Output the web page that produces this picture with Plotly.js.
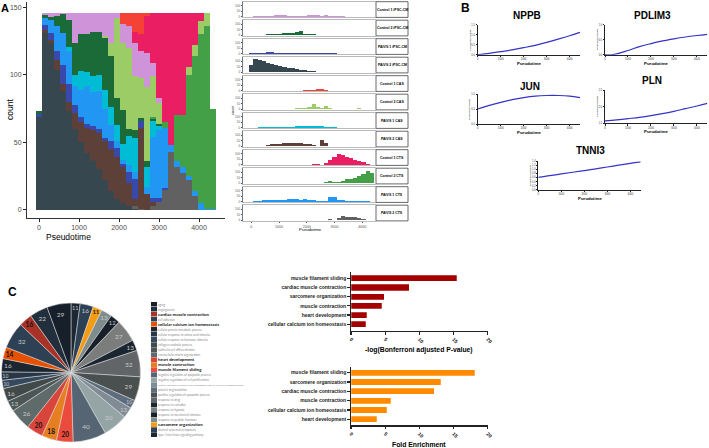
<!DOCTYPE html>
<html><head><meta charset="utf-8">
<script src="https://cdn.plot.ly/plotly-3.0.1.min.js"></script>
<style>html,body{margin:0;padding:0;background:#fff}#chart{width:709px;height:448px}</style>
</head><body><div id="chart"></div>
<script>
// ---------------- DATA ----------------
const bins=[0,150,300,450,600,750,900,1050,1200,1350,1500,1650,1800,1950,2100,2250,2400,2550,2700,2850,3000,3150,3300,3450,3600,3750,3900,4050,4200,4350];
const pseudoTicks=[0,1000,2000,3000,4000];
const pseudoTickText=['0','1000','2000','3000','4000'];

const samples=['Control 1 iPSC-CM','Control 2 iPSC-CM','PAIVS 1 iPSC-CM','PAIVS 2 iPSC-CM','Control 1 CAS','Control 2 CAS','PAIVS 1 CAS','PAIVS 2 CAS','Control 1 CTS','Control 2 CTS','PAIVS 1 CTS','PAIVS 2 CTS'];

// Panel A: stacked heights per bin
const stackC1iPSC=[0,1.5,3,2,1,5,22,16,16,14,14,17,22,4,14,16,25,20,25,10,4,0,0,0,0,0,0,0,0,0];
const stackC2iPSC=[2,2.5,2,8,14,20,24,27,28,33,32,38,38,20,25,5,6,2,4,1,2,0,0,0,0,0,0,0,0,0];
const stackP1iPSC=[2,4,5,7,14,13,6,4,3,3,3,2,6,7,2,8,15,5,0,3,3,1,0,0,0,0,0,0,0,0];
const stackP2iPSC=[69,131,124,104,88,73,60,50,42,36,30,22,14,8,5,3,1,0,0,0,0,0,0,0,0,0,0,0,0,0];
const stackC1CAS=[0,0,0,0,0,0,0,0,0,0,0,0,0,0,8,10,14,16,2,0,0,0,0,0,0,0,0,0,0,0];
const stackC2CAS=[0,0,0,0,0,0,0,0,0,0,0,2,10,59,50,60,40,30,55,30,15,0,0,0,0,6,8,10,10,0];
const stackP1CAS=[0,0,0,0,0,3,8,14,10,12,12,14,13,12,12,22,25,0,15,12,3,0,0,0,0,0,0,0,0,0];
const stackP2CAS=[0,2,2,7,5,7,12,15,19,23,27,29,31,31,27,17,5,60,12,3,0,0,0,0,0,0,0,0,0,0];
const stackC1CTS=[0,0,0,0,0,0,0,0,0,0,0,0,0,0,0,0,8,12,28,37,63,81,98,76,76,40,24,6,0,0];
const stackC2CTS=[0,0,0,0,0,0,0,0,0,0,0,0,0,0,0,0,0,0,0,2,0,4,0,34,38,75,100,125,135,74];
const stackP1CTS=[0,5,10,18,24,25,14,20,28,25,28,22,12,5,3,5,5,0,5,45,50,45,5,4,5,3,4,5,1,1];
const stackP2CTS=[0,0,0,0,0,0,0,0,0,0,0,0,0,0,0,0,2,1,0,3,6,15,43,32,27,22,10,0,0,0];

// Facets: counts per bin for each sample
const countC1iPSC=[0,1,1,1,1,2,12,10,10,8,8,8,9,6,10,15,14,6,13,5,8,2,1,0,0,0,0,0,0,0];
const countC2iPSC=[1,2,2,4,6,8,10,12,14,16,20,28,35,8,7,5,4,2,2,1,0,0,0,0,0,0,0,0,0,0];
const countP1iPSC=[2,4,5,8,12,12,6,5,4,5,6,4,3,3,2,6,8,7,3,1,1,0,0,0,0,0,0,0,0,0];
const countP2iPSC=[64,122,110,98,85,74,64,55,47,40,33,26,20,14,9,6,4,3,2,2,1,0,0,0,0,0,0,0,0,0];
const countC1CAS=[0,0,0,0,0,0,0,0,0,0,0,0,0,2,5,5,15,18,2,0,0,0,0,0,0,0,0,0,0,0];
const countC2CAS=[0,0,0,0,0,0,0,0,0,2,3,5,8,12,15,45,15,12,30,5,2,0,0,0,0,3,5,4,0,0];
const countP1CAS=[0,0,1,2,3,4,6,8,8,9,9,10,10,11,12,14,18,15,8,3,1,0,0,0,0,0,0,0,0,0];
const countP2CAS=[0,1,2,4,8,14,18,22,24,25,26,25,24,22,20,5,3,55,28,2,0,0,0,0,0,0,0,0,0,0];
const countC1CTS=[0,0,0,0,0,0,0,0,0,0,0,0,0,0,0,6,6,0,15,40,65,95,90,70,60,45,35,20,5,0];
const countC2CTS=[0,0,0,0,0,0,0,0,0,0,0,0,0,0,0,2,4,2,12,22,10,5,20,35,40,45,60,80,110,95];
const countP1CTS=[0,3,5,10,12,15,14,15,18,20,22,20,18,20,15,10,8,3,4,40,38,15,12,8,6,5,3,4,1,0];
const countP2CTS=[0,0,0,0,0,0,0,0,0,0,0,0,0,0,0,0,0,0,0,5,4,15,35,30,28,25,15,5,0,0];

// Panel B: smoothed gene expression along pseudotime
const geneNames=['NPPB','PDLIM3','JUN','PLN','TNNI3'];
const bX=[0,500,1000,1500,2000,2500,3000,3500,4000,4450];
const pdlimX=[0,330,1000,1500,2000,2500,3000,3500,4000,4450];
const nppb=[0,0.07,0.15,0.24,0.35,0.47,0.62,0.78,0.95,1.12];
const pdlim3=[0,0,0.14,0.27,0.37,0.46,0.53,0.59,0.64,0.68];
const jun=[0.50,0.62,0.72,0.81,0.88,0.93,0.95,0.95,0.93,0.88];
const pln=[1.57,1.60,1.64,1.68,1.73,1.79,1.86,1.94,2.02,2.10];
const tnni3=[0.61,0.69,0.78,0.86,0.94,1.03,1.12,1.21,1.30,1.37];

// Panel C: GO terms
const goTerms=['aging','angiogenesis','cardiac muscle contraction','cell adhesion','cellular calcium ion homeostasis','cellular protein metabolic process','cellular response to amino acid stimulus','cellular response to hormone stimulus','collagen catabolic process','epithelial cell differentiation','extracellular matrix organization','heart development','muscle contraction','muscle filament sliding','negative regulation of apoptotic process','negative regulation of cell proliferation','negative regulation of cysteine-type endopeptidase activity involved in apoptotic process','platelet degranulation','positive regulation of apoptotic process','response to drug','response to estradiol','response to hypoxia','response to mechanical stimulus','response to peptide hormone','sarcomere organization','skeletal system development','type I interferon signaling pathway'];
const goCounts=[29,22,16,32,14,16,10,10,16,13,26,20,18,20,40,30,13,10,29,32,13,27,12,13,11,16,11];
const goBold=['cardiac muscle contraction','cellular calcium ion homeostasis','heart development','muscle contraction','muscle filament sliding','sarcomere organization'];

const pTerms=['muscle filament sliding','cardiac muscle contraction','sarcomere organization','muscle contraction','heart development','cellular calcium ion homeostasis'];
const pVals=[15.5,8.5,4.9,4.5,2.3,2.15];
const fTerms=['muscle filament sliding','sarcomere organization','cardiac muscle contraction','muscle contraction','cellular calcium ion homeostasis','heart development'];
const fVals=[18.1,13.1,12.2,5.8,5.2,3.8];

// ---------------- STYLE ----------------
const W=709,H=448;
const px=x=>x/W, py=y=>1-y/H;
const sampleColors=['#CE93D8','#1B6B38','#3949AB','#37474F','#F44336','#9CCC65','#00BCD4','#5D4037','#E91E63','#43A047','#2196F3','#616161'];
const goColors=['#17202A','#212F3C','#A93226','#2E4053','#E65100','#1B2631','#283747','#34495E','#424949','#4D5656','#5F6A6A','#D9453A','#E67E22','#EA4B3C','#566573','#95A5A6','#808B96','#5D6D7E','#4A5050','#626567','#1B2631','#7B7D7D','#17202A','#7F8C8D','#F39C12','#2E4053','#1C2833'];
const ARIAL='Liberation Sans, Arial, sans-serif';

const stackData=[stackC1iPSC,stackC2iPSC,stackP1iPSC,stackP2iPSC,stackC1CAS,stackC2CAS,stackP1CAS,stackP2CAS,stackC1CTS,stackC2CTS,stackP1CTS,stackP2CTS];
const countData=[countC1iPSC,countC2iPSC,countP1iPSC,countP2iPSC,countC1CAS,countC2CAS,countP1CAS,countP2CAS,countC1CTS,countC2CTS,countP1CTS,countP2CTS];

const traces=[];
const layout={width:W,height:H,margin:{l:0,r:0,t:0,b:0},showlegend:false,paper_bgcolor:'#fff',plot_bgcolor:'rgba(0,0,0,0)',barmode:'stack',font:{family:ARIAL,color:'#000'},annotations:[],shapes:[]};
function ax(o){return Object.assign({showgrid:false,zeroline:false,showline:true,linecolor:'#222',linewidth:1,ticks:'outside',tickcolor:'#222',ticklen:3,tickwidth:1,fixedrange:true,automargin:false},o);}
function ann(x,y,text,size,o){layout.annotations.push(Object.assign({xref:'paper',yref:'paper',x:px(x),y:py(y),text:text,showarrow:false,font:{size:size,family:ARIAL,color:'#000'},xanchor:'center',yanchor:'middle'},o||{}));}

// ---- Panel A: stacked (alphabetical from top => reverse alphabetical from bottom)
const alphaOrder=samples.map((s,i)=>i).sort((a,b)=>samples[a]<samples[b]?1:-1);
alphaOrder.forEach(i=>{
  traces.push({type:'bar',x:bins,y:stackData[i],width:150,marker:{color:sampleColors[i],line:{width:0}},xaxis:'x',yaxis:'y',hoverinfo:'skip',name:samples[i]});
});
layout.xaxis=ax({domain:[px(27),px(225)],range:[-300,4650],anchor:'y',tickmode:'array',tickvals:pseudoTicks,ticktext:pseudoTickText,tickfont:{size:7,color:'#4d4d4d'},linecolor:'#333'});
layout.yaxis=ax({domain:[py(218),py(2)],range:[-6,154],anchor:'x',tickmode:'array',tickvals:[0,50,100,150],ticktext:['0','50','100','150'],tickfont:{size:7,color:'#4d4d4d'},linecolor:'#333'});
ann(68,237,'Pseudotime',8.5);
ann(10,110,'count',8.5,{textangle:-90});
ann(5,8,'<b>A</b>',11);

// ---- Facets
for(let i=0;i<12;i++){
  const n=i+2, top=1.7+18.5*i, bot=top+15.7;
  traces.push({type:'bar',x:bins,y:countData[i],width:150,marker:{color:sampleColors[i],line:{width:0}},xaxis:'x'+n,yaxis:'y'+n,hoverinfo:'skip'});
  layout['xaxis'+n]=ax({domain:[px(243),px(376)],range:[-300,4500],anchor:'y'+n,linecolor:'#aaa',linewidth:0.8,mirror:true,ticks:i===11?'outside':'',ticklen:1.5,tickcolor:'#555',showticklabels:i===11,tickmode:'array',tickvals:pseudoTicks,ticktext:pseudoTickText,tickfont:{size:3.6,color:'#555'}});
  layout['yaxis'+n]=ax({domain:[py(bot),py(top)],range:[-8,135],anchor:'x'+n,tickmode:'array',tickvals:[0,50,100],ticktext:['0','50','100'],tickfont:{size:3,color:'#555'},ticklen:1.5,tickcolor:'#555',linecolor:'#555',linewidth:0.8});
  layout.shapes.push({type:'rect',xref:'paper',yref:'paper',x0:px(376),x1:px(408),y0:py(bot),y1:py(top),line:{color:'#444',width:0.8},fillcolor:'#fff'});
  ann(392,(top+bot)/2,'<b>'+samples[i]+'</b>',3.5);
}
ann(310,229.5,'Pseudotime',4.2);
ann(233,110,'count',3.8,{textangle:-90});

// ---- Panel B
const geneX=[bX,pdlimX,bX,bX,bX];
const geneY=[nppb,pdlim3,jun,pln,tnni3];
const bBox=[
 {x:[477.7,580],y:[24.7,54.7],r:[0,1.5],tv:[0,0.5,1,1.5],tt:['0.0','0.5','1.0','1.5'],t:[526.7,15]},
 {x:[605,707.3],y:[24.7,54.7],r:[0,1.0],tv:[0,0.5,1],tt:['0.0','0.5','1.0'],t:[652.3,15]},
 {x:[477.7,580],y:[94,124],r:[0,1.0],tv:[0,0.5,1],tt:['0.0','0.5','1.0'],t:[530,86]},
 {x:[605,707.3],y:[90,123.3],r:[1.5,2.5],tv:[1.5,2,2.5],tt:['1.5','2.0','2.5'],t:[652,80]},
 {x:[538.3,640.7],y:[161.3,189.7],r:[0,1.4],tv:[0,0.2,0.4,0.6,0.8,1.0,1.2,1.4],tt:['0.0','0.2','0.4','0.6','0.8','1.0','1.2','1.4'],t:[590,150.7]}
];
bBox.forEach((b,k)=>{
  const n=14+k;
  traces.push({type:'scatter',mode:'lines',x:geneX[k],y:geneY[k],line:{color:'#3434C8',width:1.2,shape:'spline',smoothing:1},xaxis:'x'+n,yaxis:'y'+n,hoverinfo:'skip',cliponaxis:true});
  layout['xaxis'+n]=ax({domain:[px(b.x[0]),px(b.x[1])],range:[0,4450],anchor:'y'+n,tickmode:'array',tickvals:pseudoTicks,ticktext:pseudoTickText,tickfont:{size:2.6,color:'#333'},ticklen:1.2,linewidth:1});
  layout['yaxis'+n]=ax({domain:[py(b.y[1]),py(b.y[0])],range:b.r,anchor:'x'+n,tickmode:'array',tickvals:b.tv,ticktext:b.tt,tickfont:{size:2.6,color:'#333'},ticklen:1.2,linewidth:1});
  ann(b.t[0],b.t[1],'<b>'+geneNames[k]+'</b>',10);
  ann((b.x[0]+b.x[1])/2,b.y[1]+8.6,'<b>Pseudotime</b>',4.2);
  ann(b.x[0]-7.5,(b.y[0]+b.y[1])/2,'Normalized Counts',2.5,{textangle:-90});
});
ann(465,8,'<b>B</b>',12);

// ---- Panel C: pie (clockwise from 12 o'clock through the reversed term list,
//      so the list reads counter-clockwise from the top as in the original)
const pieLabels=goTerms.slice().reverse();
const pieValues=goCounts.slice().reverse();
const pieColors=goColors.slice().reverse();
const pieText=pieLabels.map((t,i)=>goBold.includes(t)?'<b>'+pieValues[i]+'</b>':String(pieValues[i]));
const pieTextColor=pieLabels.map(t=>goBold.includes(t)?'#111':'#c8c8c8');
traces.push({type:'pie',labels:pieLabels,values:pieValues,sort:false,direction:'clockwise',rotation:0,
  marker:{colors:pieColors,line:{color:'#e0e0e0',width:0.5}},text:pieText,textinfo:'text',textposition:'inside',insidetextorientation:'horizontal',
  insidetextfont:{family:'Lato, sans-serif',size:6.5,color:pieTextColor},domain:{x:[px(1.5),px(140.5)],y:[py(442),py(303)]},hoverinfo:'skip'});
ann(12,292,'<b>C</b>',12);

// pie legend as swatch column with labels
const legendText=goTerms.map(t=>{
  if(goBold.includes(t)) return '<b><span style="font-size:4.3px;color:#111">'+t+'</span></b>';
  if(t.length>60) return '<span style="font-size:2.2px;color:#8a8a8a">'+t+'</span>';
  return '<span style="font-size:3px;color:#8a8a8a">'+t+'</span>';
});
traces.push({type:'bar',orientation:'h',y:goTerms,x:goTerms.map(()=>1),width:1,marker:{color:goColors,line:{color:'#fff',width:0.3}},xaxis:'x21',yaxis:'y21',hoverinfo:'skip'});
layout.xaxis21=ax({domain:[px(150.5),px(157)],range:[0,1],anchor:'y21',visible:false});
layout.yaxis21=ax({domain:[py(437.5),py(301.8)],type:'category',categoryorder:'array',categoryarray:goTerms,range:[26.5,-0.5],anchor:'x21',side:'right',showline:false,ticks:'',tickmode:'array',tickvals:goTerms,ticktext:legendText,tickfont:{family:'Lato, sans-serif',size:3.4,color:'#888'}});

// ---- Panel C: bar charts
function barPanel(n,terms,vals,color,yTop,yBot,rng,title,titleY){
  traces.push({type:'bar',orientation:'h',x:vals,y:terms,width:0.66,marker:{color:color,line:{color:'rgba(255,255,255,0.5)',width:0.5}},xaxis:'x'+n,yaxis:'y'+n,hoverinfo:'skip'});
  layout['xaxis'+n]=ax({domain:[px(351),px(487.7)],range:[0,20],anchor:'y'+n,tickmode:'array',tickvals:[0,5,10,15,20],ticktext:['0','5','10','15','20'],tickangle:45,tickfont:{size:5,color:'#222',weight:700},ticklen:2.5,tickwidth:1.2,linewidth:1.3});
  layout['yaxis'+n]=ax({domain:[py(yBot),py(yTop)],type:'category',categoryorder:'array',categoryarray:terms,range:rng,anchor:'x'+n,tickfont:{size:5,color:'#222',weight:700},ticklen:2.5,tickwidth:1.2,linewidth:1.3});
  ann(419,titleY,'<b>'+title+'</b>',6.8);
}
barPanel(19,pTerms,pVals,'#A50000',272.3,330.7,[5.7,-0.65],'-log(Bonferroni adjusted P-value)',350);
barPanel(20,fTerms,fVals,'#FF8A00',366.7,425.3,[5.64,-0.64],'Fold Enrichment',444);

Plotly.newPlot('chart',traces,layout,{staticPlot:true,displayModeBar:false});
</script></body></html>
